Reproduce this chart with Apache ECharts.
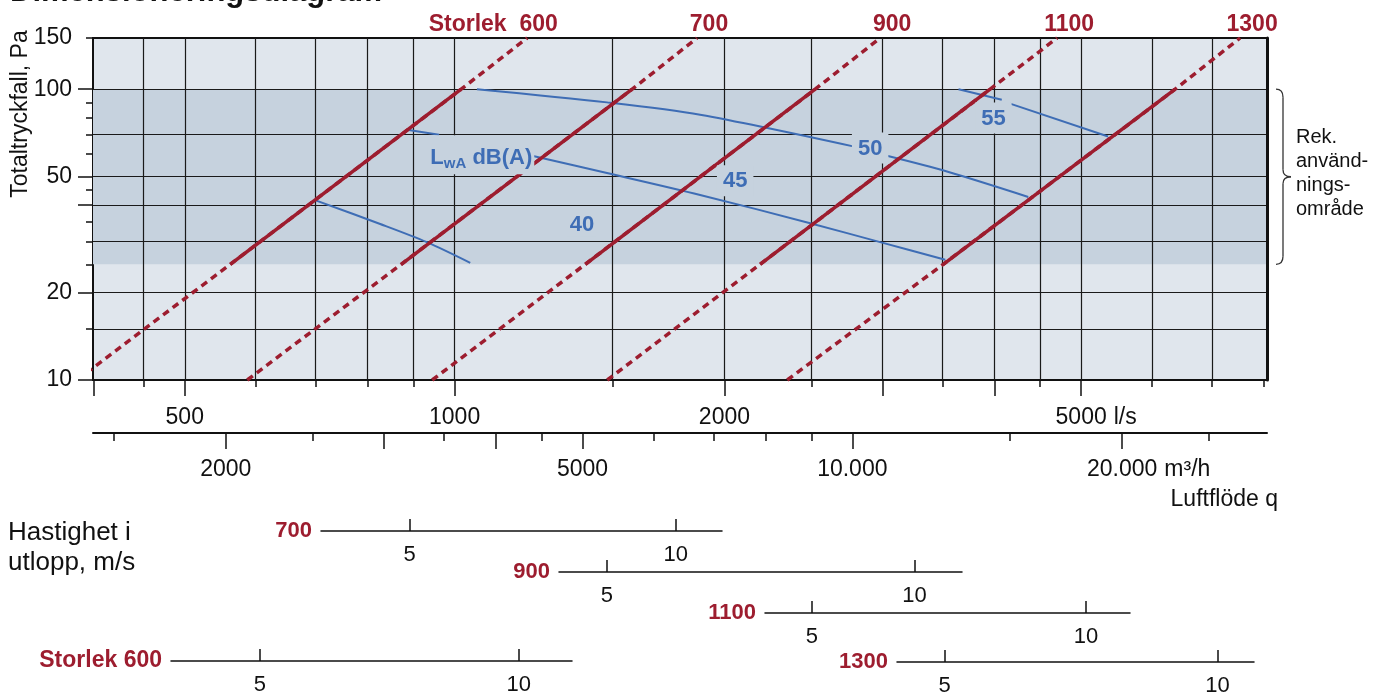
<!DOCTYPE html>
<html>
<head>
<meta charset="utf-8">
<script src="https://cdn.jsdelivr.net/npm/echarts@6/dist/echarts.min.js"></script>
<style>
html,body{margin:0;padding:0;background:#fff;}
#chart{width:1387px;height:695px;}
</style>
</head>
<body>
<div id="chart"></div>
<script>
// Luftflöde q (l/s) mot totaltryckfall (Pa)
var sizes = ['600', '700', '900', '1100', '1300'];
var sizePa = [10, 25, 100, 150];          // streckad 10-25, heldragen 25-100, streckad 100-150
var sizeFlow = [
  [379, 562, 1017, 1205],
  [587, 872, 1578, 1864],
  [944, 1399, 2525, 2984],
  [1480, 2192, 3958, 4701],
  [2350, 3509, 6366, 7522]
];
var bandPa = [25, 100];   // rek. användningsområde

// ljudeffektkurvor LwA, null = avbrott vid etikett
var noise40 = [[701, 41.4], [826, 34.4], [931, 29.8], [1041, 25.3]];
var noise45 = [[885, 72.5], [961, 69.7], null, [1220, 59.0], [1479, 51.5], [1879, 43.3], [2493, 34.6], [2984, 29.8], [3527, 25.9]];
var noise50 = [[1059, 100], [1479, 90.1], [1879, 81.7], [2784, 63.6], null, [3036, 59.0], [3542, 52.1], [4365, 42.6]];
var noise55 = [[3649, 100], [4078, 92.0], null, [4166, 89.2], [5359, 68.8]];
var noiseLabels = [['LwA', 1071, 59.5], ['40', 1387, 34.2], ['45', 2056, 48.4], ['50', 2908, 62.8], ['55', 3991, 79.6]];

// axlar
var flowRange = [395, 8060];
var paRange = [10, 150];
var flowMajor = [396, 500, 1000, 2000, 3000, 4000, 5000];
var flowMinor = [450, 600, 700, 800, 900, 1500, 2500, 3500, 4500, 6000, 7000, 8000];
var flowGrid = [450, 500, 600, 700, 800, 900, 1000, 1500, 2000, 2500, 3000, 3500, 4000, 4500, 5000, 6000, 7000];
var flowLabels = [500, 1000, 2000, 5000];
var m3hPerLs = 3.6;
var m3hMajor = [2000, 3000, 4000, 5000, 10000, 20000];
var m3hMinor = [1500, 2500, 3500, 4500, 6000, 7000, 8000, 9000, 15000, 25000];
var m3hLabels = [2000, 5000, 10000, 20000];
var paMajor = [10, 20, 40, 50, 100];
var paMinor = [15, 25, 30, 35, 45, 60, 70, 80, 90, 149.9];
var paGrid = [15, 20, 30, 40, 50, 70, 100];
var paLabels = [10, 20, 50, 100, 150];

// hastighet i utlopp, m/s
var velNames = ['Storlek 600', '700', '900', '1100', '1300'];
var velRange = [[3.94, 11.53], [3.97, 11.28], [4.49, 11.13], [4.44, 11.18], [4.43, 10.97]];
var velTicks = [5, 10];

var red = '#9d1d2f', blue = '#3e6db5', band = '#c6d2de', light = '#e0e6ed', ink = '#111';
var font = 'Liberation Sans, Arial, sans-serif';

var velPos = [
  {left: 171, width: 401, y: 661},
  {left: 321, width: 401, y: 531},
  {left: 559, width: 403, y: 572},
  {left: 765, width: 365, y: 613},
  {left: 897, width: 357, y: 662}
];

var chart = echarts.init(document.getElementById('chart'));

function fmtNum(v) {
  v = Math.round(v);
  return v >= 10000 ? (v / 1000) + '.000' : String(v);
}

var grids = [{left: 93, right: 120, top: 38, bottom: 315, show: true, backgroundColor: light,
  borderColor: ink, borderWidth: 2, containLabel: false, outerBoundsMode: 'none'}];
var txt = {fontSize: 23, fontFamily: font, color: ink};

var xAxes = [
  {type: 'log', gridIndex: 0, position: 'bottom', min: flowRange[0], max: flowRange[1],
    axisLine: {lineStyle: {color: ink, width: 2}},
    axisTick: {customValues: flowMajor, length: 16, lineStyle: {color: ink, width: 1.5}},
    axisLabel: {customValues: flowLabels, margin: 26, fontSize: 23, fontFamily: font, color: ink,
      formatter: function (v) { return Math.round(v) === 5000 ? '{p|}{v|5000}{u|l/s}' : '{v|' + fmtNum(v) + '}'; },
      rich: {v: txt, p: {width: 30}, u: {width: 30, align: 'right', fontSize: 23, fontFamily: font, color: ink}}},
    splitLine: {show: false}},
  {type: 'log', gridIndex: 0, position: 'bottom', min: flowRange[0], max: flowRange[1],
    axisLine: {show: false}, axisLabel: {show: false}, splitLine: {show: false},
    axisTick: {customValues: flowMinor, length: 7, lineStyle: {color: ink, width: 1.5}}},
  {type: 'log', gridIndex: 0, position: 'bottom', min: flowRange[0], max: flowRange[1], z: 2,
    axisLine: {show: false}, axisLabel: {show: false}, axisTick: {show: false, customValues: flowGrid},
    splitLine: {show: true, lineStyle: {color: '#1a1a1a', width: 1.2}}},
  {type: 'log', gridIndex: 0, position: 'bottom', min: flowRange[0] * m3hPerLs, max: flowRange[1] * m3hPerLs, offset: 53,
    axisLine: {lineStyle: {color: ink, width: 2}},
    axisTick: {customValues: m3hMajor, length: 16, lineStyle: {color: ink, width: 1.5}},
    axisLabel: {customValues: m3hLabels, margin: 25, fontSize: 23, fontFamily: font, color: ink,
      formatter: function (v) { return Math.round(v) === 20000 ? '{p|}{v|20.000}{u|m³/h}' : '{v|' + fmtNum(v) + '}'; },
      rich: {v: txt, p: {width: 53}, u: {width: 53, align: 'right', fontSize: 23, fontFamily: font, color: ink}}},
    splitLine: {show: false}},
  {type: 'log', gridIndex: 0, position: 'bottom', min: flowRange[0] * m3hPerLs, max: flowRange[1] * m3hPerLs, offset: 53,
    axisLine: {show: false}, axisLabel: {show: false}, splitLine: {show: false},
    axisTick: {customValues: m3hMinor, length: 8, lineStyle: {color: ink, width: 1.5}}}
];

var yAxes = [
  {type: 'log', gridIndex: 0, position: 'left', min: paRange[0], max: paRange[1],
    axisLine: {lineStyle: {color: ink, width: 2}},
    axisTick: {customValues: paMajor, length: 15, lineStyle: {color: ink, width: 1.5}},
    axisLabel: {customValues: paLabels, margin: 21, fontSize: 23, fontFamily: font, color: ink},
    splitLine: {show: false}},
  {type: 'log', gridIndex: 0, position: 'left', min: paRange[0], max: paRange[1],
    axisLine: {show: false}, axisLabel: {show: false}, splitLine: {show: false},
    axisTick: {customValues: paMinor, length: 7, lineStyle: {color: ink, width: 1.5}}},
  {type: 'log', gridIndex: 0, position: 'left', min: paRange[0], max: paRange[1], z: 2,
    axisLine: {show: false}, axisLabel: {show: false}, axisTick: {show: false, customValues: paGrid},
    splitLine: {show: true, lineStyle: {color: '#1a1a1a', width: 1.2}}},
  {type: 'log', gridIndex: 0, position: 'right', min: paRange[0], max: paRange[1], z: 3,
    axisLine: {lineStyle: {color: ink, width: 3}}, axisTick: {show: false}, axisLabel: {show: false}, splitLine: {show: false}}
];

velNames.forEach(function (name, i) {
  var p = velPos[i];
  grids.push({left: p.left, width: p.width, top: p.y - 20, height: 20, containLabel: false, outerBoundsMode: 'none'});
  xAxes.push({type: 'log', gridIndex: i + 1, position: 'bottom', min: velRange[i][0], max: velRange[i][1],
    name: name, nameLocation: 'start', nameGap: 9,
    nameTextStyle: {color: red, fontWeight: 'bold', fontSize: i === 0 ? 23 : 22, fontFamily: font},
    axisLine: {lineStyle: {color: ink, width: 1.5}},
    axisTick: {inside: true, length: 12, customValues: velTicks, lineStyle: {color: ink, width: 1.5}},
    axisLabel: {customValues: velTicks, margin: 13, fontSize: 22, fontFamily: font, color: ink},
    splitLine: {show: false}});
  yAxes.push({type: 'value', gridIndex: i + 1, show: false});
});

var series = [];
series.push({type: 'scatter', data: [], silent: true,
  markArea: {silent: true, itemStyle: {color: band, opacity: 1}, data: [[{yAxis: bandPa[0]}, {yAxis: bandPa[1]}]]}});

function addCurve(pts) {
  var seg = [];
  pts.concat([null]).forEach(function (pt) {
    if (pt) { seg.push(pt); return; }
    series.push({type: 'line', data: seg, symbol: 'none', smooth: 0.3, z: 3, silent: true,
      lineStyle: {color: blue, width: 2}});
    seg = [];
  });
}
[noise40, noise45, noise50, noise55].forEach(addCurve);

sizes.forEach(function (s, i) {
  var pts = sizeFlow[i].map(function (q, k) { return [q, sizePa[k]]; });
  series.push({type: 'line', data: pts, symbol: 'none', clip: false, z: 4, silent: true,
    lineStyle: {color: red, width: 3.5, type: [7, 5]}});
  series.push({type: 'line', data: pts.slice(1, 3), symbol: 'none', z: 4, silent: true,
    lineStyle: {color: red, width: 3.5}});
});

var labelData = [];
sizes.forEach(function (s, i) {
  labelData.push({value: [sizeFlow[i][3], sizePa[3]],
    label: {formatter: i === 0 ? 'Storlek  ' + s : s, position: 'top', distance: 2,
      offset: [i === 0 ? -34 : 12, 0], color: red, fontWeight: 'bold', fontSize: 23, fontFamily: font}});
});
noiseLabels.forEach(function (d) {
  var isName = d[0] === 'LwA';
  labelData.push({value: [d[1], d[2]],
    label: {position: 'inside', color: blue, fontWeight: 'bold', fontSize: 22, fontFamily: font,
      backgroundColor: band, padding: isName ? [10, 2, 3, 2] : (d[0] === '40' ? [1, 2] : [5, 6, 4, 6]),
      formatter: isName ? '{l|L}{s|wA}{l| dB(A)}' : d[0],
      rich: {
        l: {color: blue, fontWeight: 'bold', fontSize: 22, fontFamily: font, lineHeight: 26, verticalAlign: 'middle'},
        s: {color: blue, fontWeight: 'bold', fontSize: 15, fontFamily: font, lineHeight: 26, verticalAlign: 'bottom'}
      }}});
});
series.push({type: 'scatter', data: labelData, symbolSize: 0, clip: false, z: 6, silent: true,
  itemStyle: {opacity: 1}, label: {show: true}});

function textStyle(o) { return Object.assign({fill: ink, fontFamily: font}, o); }

chart.setOption({
  animation: false,
  grid: grids,
  xAxis: xAxes,
  yAxis: yAxes,
  series: series,
  graphic: [
    {id: 'title', type: 'text', x: 10, y: -7.5, style: textStyle({text: 'Dimensioneringsdiagram', fontSize: 31, fontWeight: 'bold', verticalAlign: 'middle'})},
    {id: 'yname', type: 'text', x: 21, y: 114, rotation: Math.PI / 2, style: textStyle({text: 'Totaltryckfall, Pa', fontSize: 23, align: 'center', verticalAlign: 'middle'})},
    {id: 'xname', type: 'text', x: 1278, y: 500, style: textStyle({text: 'Luftflöde q', fontSize: 23, align: 'right', verticalAlign: 'middle'})},
    {id: 'vname', type: 'text', x: 8, y: 548, style: textStyle({text: 'Hastighet i\nutlopp, m/s', fontSize: 26, lineHeight: 30, verticalAlign: 'middle'})}
  ]
});

// klammer för rekommenderat område, placerad via y-axelns skala
var yTop = chart.convertToPixel({yAxisIndex: 0}, bandPa[1]);
var yBot = chart.convertToPixel({yAxisIndex: 0}, bandPa[0]);
var xr = chart.convertToPixel({xAxisIndex: 0}, flowRange[1]);
var mid = (yTop + yBot) / 2;
var bs = {stroke: '#333', lineWidth: 1.3, fill: null};
chart.setOption({
  graphic: [
    {id: 'b1', type: 'bezierCurve', shape: {x1: xr + 9, y1: yTop, cpx1: xr + 16, cpy1: yTop, x2: xr + 16, y2: yTop + 8}, style: bs},
    {id: 'b2', type: 'line', shape: {x1: xr + 16, y1: yTop + 8, x2: xr + 16, y2: mid - 7}, style: bs},
    {id: 'b3', type: 'bezierCurve', shape: {x1: xr + 16, y1: mid - 7, cpx1: xr + 16, cpy1: mid, x2: xr + 24, y2: mid}, style: bs},
    {id: 'b4', type: 'bezierCurve', shape: {x1: xr + 24, y1: mid, cpx1: xr + 16, cpy1: mid, x2: xr + 16, y2: mid + 7}, style: bs},
    {id: 'b5', type: 'line', shape: {x1: xr + 16, y1: mid + 7, x2: xr + 16, y2: yBot - 8}, style: bs},
    {id: 'b6', type: 'bezierCurve', shape: {x1: xr + 16, y1: yBot - 8, cpx1: xr + 16, cpy1: yBot, x2: xr + 9, y2: yBot}, style: bs},
    {id: 'rek', type: 'text', x: xr + 29, y: mid - 3, style: textStyle({text: 'Rek.\nanvänd-\nnings-\nområde', fontSize: 20, lineHeight: 24, verticalAlign: 'middle'})}
  ]
});
</script>
</body>
</html>
